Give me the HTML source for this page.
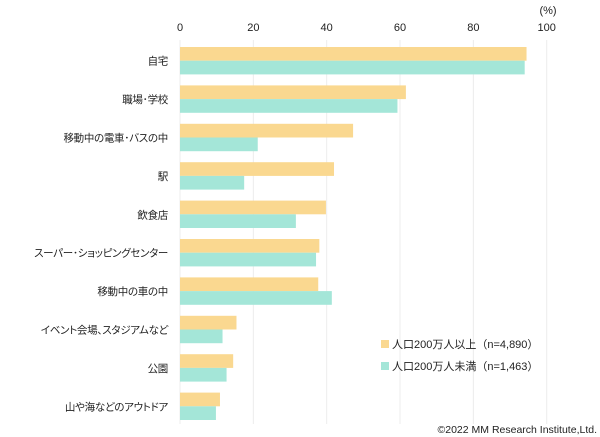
<!DOCTYPE html>
<html><head><meta charset="utf-8"><style>
body{margin:0;background:#fff;}
svg{display:block;font-family:"Liberation Sans","Noto Sans CJK JP",sans-serif;}
.cat{font-feature-settings:"palt" 1;letter-spacing:-0.3px;}
</style></head><body>
<svg id="chart" width="600" height="437"></svg>
<script>
const categories=["自宅","職場･学校","移動中の電車･バスの中","駅","飲食店","スーパー･ショッピングセンター","移動中の車の中","イベント会場、スタジアムなど","公園","山や海などのアウトドア"];
const seriesLarge=[94.5,61.6,47.2,42.0,39.8,38.0,37.7,15.4,14.5,10.9];
const seriesSmall=[94.0,59.3,21.2,17.5,31.6,37.1,41.4,11.6,12.7,9.8];
const ticks=[0,20,40,60,80,100];
const legendLabels=["人口200万人以上（n=4,890）","人口200万人未満（n=1,463）"];
const colors=["#fad890","#a4e6d8"];
const NS="http://www.w3.org/2000/svg";
const svg=document.getElementById('chart');
const x0=180,x1=546.7,rowTop=47,rowStep=38.4,barH=13.7;
function xs(v){return x0+(x1-x0)*v/100;}
function mk(tag,attrs,parent){const e=document.createElementNS(NS,tag);for(const k in attrs)e.setAttribute(k,attrs[k]);(parent||svg).appendChild(e);return e;}
ticks.forEach(t=>{
  const g=mk('line',{x1:xs(t),x2:xs(t),y1:40,y2:424,stroke:'#ececec','stroke-width':1});
  
  
  const l=mk('text',{x:xs(t),y:31,'text-anchor':'middle','font-size':11,fill:'#222'});
  l.textContent=t;
  
  
});
const u=mk('text',{x:548,y:14,'text-anchor':'middle','font-size':11,fill:'#222'});
u.textContent='(%)';


categories.forEach((c,i)=>{
  const y=rowTop+i*rowStep;
  const b1=mk('rect',{x:x0,y:y,width:xs(seriesLarge[i])-x0,height:barH,fill:colors[0]});
  
  
  const b2=mk('rect',{x:x0,y:y+barH,width:xs(seriesSmall[i])-x0,height:barH,fill:colors[1]});
  
  
  const t=mk('text',{x:168,y:y+barH+4,'text-anchor':'end','font-size':10.5,fill:'#222','class':'cat'});
  t.textContent=c;
  
  
});
legendLabels.forEach((s,i)=>{
  const y=344+i*22;
  const r=mk('rect',{x:381,y:y-4,width:8,height:8,fill:colors[i]});
  
  
  const t=mk('text',{x:392,y:y+4,'font-size':11,fill:'#222'});
  t.textContent=s;
  
  
});
const cp=mk('text',{x:597,y:433,'text-anchor':'end','font-size':10.5,fill:'#222'});
cp.textContent='©2022 MM Research Institute,Ltd.';


</script>
</body></html>
